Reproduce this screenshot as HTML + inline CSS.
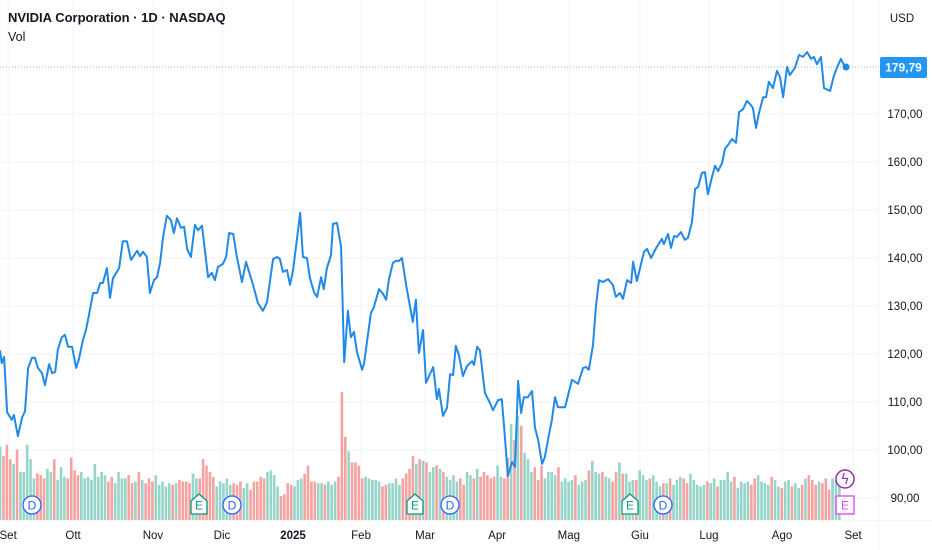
<!DOCTYPE html>
<html><head><meta charset="utf-8"><style>
html,body{margin:0;padding:0;background:#fff;width:932px;height:550px;overflow:hidden;font-family:"Liberation Sans",sans-serif}
svg{display:block}
</style></head><body>
<svg id="chart" width="932" height="550" xmlns="http://www.w3.org/2000/svg">
 <text x="8" y="22" font-size="13" font-weight="bold" fill="#131722">NVIDIA Corporation · 1D · NASDAQ</text>
 <text x="8" y="41" font-size="12.5" fill="#131722">Vol</text>
 <rect x="884" y="6" width="40" height="24" rx="3" fill="#fff"/>
 <text x="902" y="22" font-size="11.5" fill="#131722" text-anchor="middle">USD</text>
</svg>
<script>
const priceTicks=[90,100,110,120,130,140,150,160,170];
const priceTickLabels=["90,00","100,00","110,00","120,00","130,00","140,00","150,00","160,00","170,00"];
const monthLabels=["Set","Ott","Nov","Dic","2025","Feb","Mar","Apr","Mag","Giu","Lug","Ago","Set"];
const monthDays=[2.4,21.6,45.2,65.6,86.6,106.7,125.6,146.9,168.1,189.1,209.5,231.1,252.1];
const days=[0,0.5,1.2,2.1,3.5,4.1,5.3,6.5,7.4,8.3,9.5,10.3,11.2,12.4,13.3,14.5,15.4,16.3,17.1,18.3,19.2,20.1,21.3,22.5,23.3,24.5,25.4,26.0,27.5,28.7,29.6,30.4,31.6,32.5,33.4,35.2,36.3,37.5,38.7,40.5,41.4,42.3,43.4,44.3,45.5,46.4,47.3,48.2,49.3,50.5,51.4,52.3,53.5,54.4,55.3,56.4,57.6,58.5,59.7,61.5,62.6,63.5,64.4,65.9,66.8,67.7,68.9,70.0,71.5,72.7,74.8,76.2,77.7,78.9,80.7,81.9,82.7,83.6,84.8,85.7,86.6,87.8,88.7,89.5,90.7,91.6,92.8,93.7,94.9,95.7,96.6,97.8,98.4,99.6,100.8,101.7,102.8,103.7,104.6,105.5,107.0,107.6,109.6,110.5,112.0,113.2,114.1,114.9,116.1,117.0,117.9,118.8,120.0,122.0,122.9,123.8,125.0,125.9,128.0,129.1,129.7,130.9,132.1,133.0,133.9,134.7,135.6,136.8,138.0,139.5,140.1,141.0,141.8,143.3,144.8,145.7,147.2,148.3,149.2,150.1,151.3,152.2,153.1,154.0,154.8,156.0,157.2,158.1,159.0,160.2,161.0,162.2,163.1,164.0,164.9,167.0,169.0,170.8,172.3,173.2,174.0,175.2,176.1,177.0,178.2,179.7,181.1,182.0,183.2,184.1,185.3,186.5,187.1,188.2,190.3,191.2,192.4,193.9,195.6,196.2,197.4,198.3,199.2,200.1,201.2,202.4,203.3,204.5,205.4,206.3,207.4,208.3,209.2,210.4,211.3,212.2,213.4,214.2,215.4,216.3,217.5,218.4,219.6,220.7,221.6,222.5,223.4,224.3,225.5,226.4,227.2,228.4,229.6,230.5,231.4,232.6,233.4,234.9,236.1,237.3,238.5,239.7,240.5,241.4,242.6,243.5,245.3,246.4,247.3,248.5,249.4,250];
const prices=[120.8,118.1,119.4,107.9,106.3,107.3,102.9,106.7,108.1,117.1,119.2,119.2,117.1,116.0,113.5,117.9,116.0,116.3,121.0,123.5,124.0,121.5,121.5,117.1,118.8,122.9,125.0,127.1,132.7,132.7,134.8,134.8,137.9,131.7,135.8,137.9,143.5,143.5,139.6,141.5,140.4,141.3,140.2,132.7,135.4,136.0,139.0,144.4,148.8,147.9,145.2,148.3,146.3,146.5,141.9,140.2,146.9,145.8,146.7,136.0,136.9,135.4,138.1,138.8,140.2,145.2,145.0,140.2,135.0,139.2,134.4,130.6,129.0,130.8,139.8,140.2,139.8,137.1,137.5,134.4,137.5,144.2,149.4,140.2,140.0,135.8,132.9,131.9,136.0,133.5,137.9,140.6,147.1,147.3,142.3,118.3,129.0,123.5,124.6,120.4,116.7,118.1,128.5,129.8,133.5,132.5,131.3,135.4,139.0,139.4,139.4,140.0,134.4,126.7,131.3,120.2,125.0,114.0,117.3,110.6,112.7,107.1,108.8,115.8,115.6,121.7,119.8,115.4,117.5,118.5,117.7,121.5,120.8,111.9,109.8,108.3,110.4,110.6,102.7,94.6,97.5,96.5,114.4,107.7,111.0,111.0,112.3,104.6,102.1,97.1,98.5,103.1,106.3,111.0,108.9,108.9,114.6,113.8,117.1,117.3,116.7,121.7,129.8,135.4,135.0,135.6,134.4,131.9,132.7,131.5,135.4,134.8,139.2,135.2,141.3,141.9,140.0,142.1,144.0,142.9,145.0,142.1,144.6,144.4,145.4,143.8,144.2,147.5,154.4,154.8,157.7,157.9,153.3,156.9,159.2,158.1,159.8,162.7,163.8,164.8,164.0,170.4,171.0,172.7,172.1,171.3,167.1,170.2,173.5,173.5,176.7,175.4,179.0,177.7,173.5,179.8,178.1,179.6,182.3,181.9,182.9,181.5,181.9,180.4,181.9,175.4,174.8,177.9,179.6,181.5,180.2,179.79];
const volumes=[460,400,470,380,350,440,300,300,470,380,260,290,280,260,320,300,380,250,330,270,260,
390,310,280,300,260,270,250,350,270,300,280,240,270,230,300,260,260,280,230,240,
300,250,230,260,240,280,220,240,210,230,220,230,250,240,240,230,290,260,260,380,340,
300,270,210,240,230,260,220,230,220,240,200,230,190,240,240,270,260,300,310,280,210,
150,160,230,220,210,250,260,290,340,240,240,230,230,220,240,220,240,270,800,520,430,
360,360,340,260,270,260,250,250,240,210,220,230,230,260,220,260,290,320,400,350,380,
370,360,300,330,340,320,300,270,250,280,240,260,220,300,280,260,320,270,300,280,
260,270,340,270,260,390,600,500,650,590,420,380,300,330,250,340,260,300,300,280,
330,240,260,240,250,280,220,240,250,310,370,300,290,300,270,260,240,300,360,290,
290,240,250,250,310,280,250,260,280,240,210,230,230,260,220,250,270,260,230,290,
250,220,210,220,240,230,260,210,250,250,300,240,270,200,240,230,240,220,260,280,
240,230,220,270,250,210,200,240,250,210,230,200,220,260,280,250,220,240,230,260,190,260,250,300];
const lastPrice=179.79, lastLabel="179,79";

const NS="http://www.w3.org/2000/svg";
const svg=document.getElementById('chart');
const xScale=d=>d*3.384;
const yScale=p=>354-(p-120)*4.8;
const volBase=520, volK=0.16;
function mk(tag,attrs){const e=document.createElementNS(NS,tag);for(const k in attrs)e.setAttribute(k,attrs[k]);return e;}
function priceAt(d){if(d<=days[0])return prices[0];for(let i=1;i<days.length;i++){if(days[i]>=d){const t=(d-days[i-1])/(days[i]-days[i-1]);return prices[i-1]+t*(prices[i]-prices[i-1]);}}return prices[prices.length-1];}
const first=svg.firstChild;
priceTicks.forEach((p,i)=>{
 const g=mk('line',{x1:0,x2:878,y1:yScale(p),y2:yScale(p),stroke:'#f0f3fa','stroke-width':1});
 
 
 svg.insertBefore(g,first);
 const t=mk('text',{x:905,y:yScale(p)+4,'font-size':11.5,fill:'#131722','text-anchor':'middle'});
 
 
 t.textContent=priceTickLabels[i];svg.appendChild(t);
});
monthDays.forEach((d,i)=>{
 const x=xScale(d);
 if(x<878){const g=mk('line',{x1:x,x2:x,y1:0,y2:520,stroke:'#f0f3fa','stroke-width':1});
 
 
 svg.insertBefore(g,first);}
 const t=mk('text',{x:x,y:539,'font-size':11.5,fill:'#131722','text-anchor':'middle','font-weight':monthLabels[i]==='2025'?'bold':'normal'});
 
 
 t.textContent=monthLabels[i];svg.appendChild(t);
});
const sep=mk('line',{x1:878.5,x2:878.5,y1:0,y2:550,stroke:'#f3f4f7'});


svg.appendChild(sep);
const sep2=mk('line',{x1:0,x2:932,y1:520.5,y2:520.5,stroke:'#f3f4f7'});


svg.appendChild(sep2);
volumes.forEach((v,i)=>{
 const up=priceAt(i)>=priceAt(i-1);
 const h=v*volK;
 const r=mk('rect',{x:xScale(i)-1.2,y:volBase-h,width:2.6,height:h,fill:up?'#96d5c8':'#f5a3a1'});
 
 
 svg.appendChild(r);
});
const ly=yScale(lastPrice);
const pl=mk('line',{x1:0,x2:878,y1:ly,y2:ly,stroke:'#2196f3','stroke-width':1,'stroke-dasharray':'1 2',opacity:0.6});


svg.appendChild(pl);
let dstr=days.map((d,i)=>(i?'L':'M')+xScale(d).toFixed(1)+' '+yScale(prices[i]).toFixed(1)).join(' ');
const path=mk('path',{d:dstr,fill:'none',stroke:'#2189e6','stroke-width':2,'stroke-linejoin':'round'});


svg.appendChild(path);
const dot=mk('circle',{cx:xScale(days[days.length-1]),cy:ly,r:3.5,fill:'#2189e6'});


svg.appendChild(dot);
const box=mk('rect',{x:880,y:ly-10,width:47,height:21,rx:2,fill:'#2196f3'});


svg.appendChild(box);
const bt=mk('text',{x:903.5,y:ly+4.5,'font-size':12,fill:'#fff','text-anchor':'middle','font-weight':'bold'});


bt.textContent=lastLabel;svg.appendChild(bt);
const markers=[["D",32],["E",199],["D",232],["E",415],["D",450],["E",630],["D",663]];
markers.forEach(m=>{
 const g=mk('g',{});
 
 
 const x=m[1],y=505;
 if(m[0]==='D'){g.appendChild(mk('circle',{cx:x,cy:y,r:9,fill:'#fff',stroke:'#2962ff','stroke-width':1.3}));}
 else{g.appendChild(mk('path',{d:`M${x-8} ${y-4} L${x} ${y-11} L${x+8} ${y-4} L${x+8} ${y+9} L${x-8} ${y+9} Z`,fill:'#fff',stroke:'#089981','stroke-width':1.3}));}
 const t=mk('text',{x:x,y:y+4.5,'font-size':12,'text-anchor':'middle',fill:m[0]==='D'?'#2962ff':'#089981'});
 t.textContent=m[0];g.appendChild(t);svg.appendChild(g);
});
const lg=mk('g',{});


lg.appendChild(mk('circle',{cx:845,cy:479,r:9,fill:'#fff',stroke:'#9c27b0','stroke-width':1.5}));
const lt=mk('text',{x:845,y:484,'font-size':14,'font-family':'DejaVu Sans, sans-serif','text-anchor':'middle',fill:'#9c27b0'});lt.textContent='ϟ';lg.appendChild(lt);
svg.appendChild(lg);
const eg=mk('g',{});


eg.appendChild(mk('rect',{x:836,y:496,width:18,height:18,fill:'#fff',stroke:'#e040fb','stroke-width':1.3}));
const et=mk('text',{x:845,y:509.5,'font-size':12,'text-anchor':'middle',fill:'#e040fb'});et.textContent='E';eg.appendChild(et);
svg.appendChild(eg);
</script>
</body></html>
